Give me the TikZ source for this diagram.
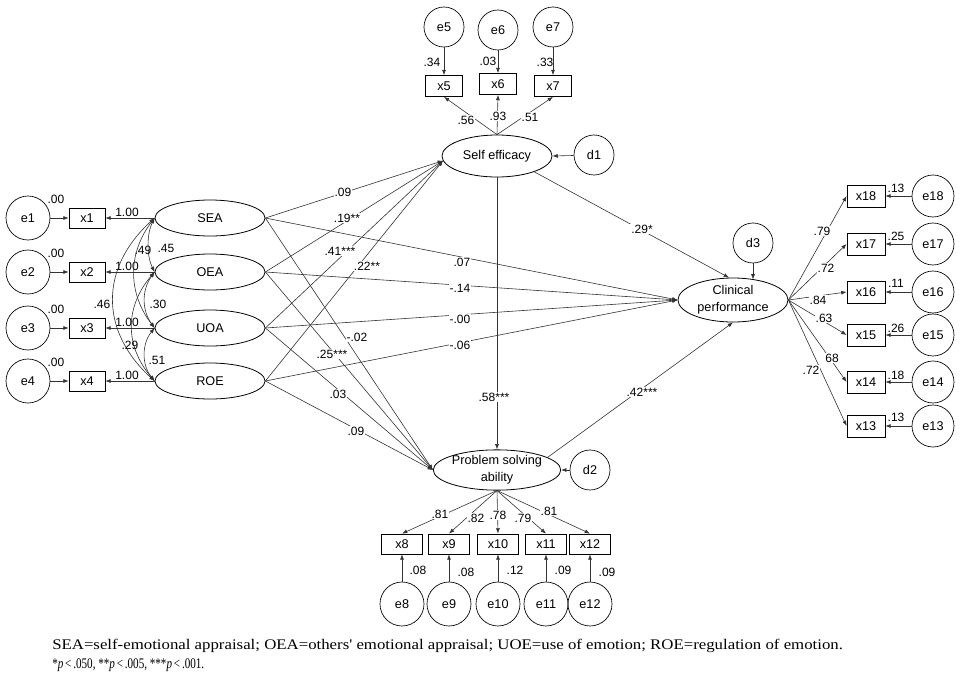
\documentclass[tikz,border=0pt]{standalone}
\usepackage{fontspec}
\setmainfont{Liberation Sans}
\newfontfamily\capfont{Liberation Serif}
\usetikzlibrary{shapes.geometric,arrows.meta}
\begin{document}
\begin{tikzpicture}[x=0.75pt,y=-0.75pt,
  every node/.style={font=\fontsize{9.5}{12.5}\selectfont},
  lat/.style={ellipse,draw,line width=0.6pt,inner sep=0pt,minimum width=82.5pt,minimum height=27pt,align=center},
  errc/.style={circle,draw,line width=0.5pt,inner sep=0pt,minimum size=33pt},
  obs/.style={rectangle,draw,line width=0.6pt,inner sep=0pt,minimum width=27pt,minimum height=15pt},
  lb/.style={font=\fontsize{9}{9.5}\selectfont,inner sep=0.8pt},
  lbw/.style={lb,fill=white},
  arr/.style={-{Latex[length=4pt,width=3pt]},line width=0.45pt,draw=black!80},
  dar/.style={{Latex[length=4pt,width=3pt]}-{Latex[length=4pt,width=3pt]},line width=0.45pt,draw=black!80}
]
\useasboundingbox (0,0) rectangle (961,675);

% ---------- left block ----------
\foreach \i/\y/\n in {1/218/SEA,2/272/OEA,3/328/UOA,4/381/ROE} {
  \node[errc] (e\i) at (28,\y) {e\i};
  \node[obs] (x\i) at (87,\y) {x\i};
  \node[lat] (\n) at (210,\y) {\n};
  \node[lb] (z\i) at (56,\y-19) {.00};
  \draw[arr] (e\i) -- (x\i);
  \draw[arr] (\n.west) -- (x\i.east);
  \node[lb] (o\i) at (127,\y-6) {1.00};
}

% covariances
\draw[dar] (SEA.west) .. controls +(-8,16) and +(-8,-16) .. (OEA.west);
\draw[dar] (OEA.west) .. controls +(-13,18) and +(-13,-18) .. (UOA.west);
\draw[dar] (UOA.west) .. controls +(-13,16) and +(-13,-16) .. (ROE.west);
\draw[dar] (SEA.west) .. controls +(-27,35) and +(-27,-35) .. (UOA.west);
\draw[dar] (OEA.west) .. controls +(-30,35) and +(-30,-35) .. (ROE.west);
\draw[dar] (SEA.west) .. controls +(-55,50) and +(-55,-50) .. (ROE.west);
\node[lb] (c1) at (166,248) {.45};
\node[lb] (c2) at (143,250) {.49};
\node[lb] (c3) at (102,304) {.46};
\node[lb] (c4) at (158,304) {.30};
\node[lb] (c5) at (130,345) {.29};
\node[lb] (c6) at (157,360) {.51};

% ---------- self efficacy ----------
\node[lat,minimum height=31.5pt] (SE) at (497,156) {Self efficacy};
\node[errc,minimum size=30pt] (d1) at (594,155) {d1};
\draw[arr] (d1) -- (SE.east);
\foreach \i/\x/\y/\ey in {5/444/86/27,6/498/84/30,7/553/86/27} {
  \node[errc,minimum size=30pt] (e\i) at (\x,\ey) {e\i};
  \node[obs,minimum width=27.75pt,minimum height=15.75pt] (x\i) at (\x,\y) {x\i};
  \draw[arr] (e\i) -- (x\i);
  \draw[arr] (SE.north) -- (x\i.south);
}
\node[lb] (r5) at (432,62) {.34};
\node[lb] (r6) at (488,61) {.03};
\node[lb] (r7) at (545,62) {.33};
\node[lbw] (l5) at (466,120) {.56};
\node[lbw] (l6) at (498,116) {.93};
\node[lbw] (l7) at (530,117) {.51};

% ---------- problem solving ----------
\node[lat,minimum height=30pt] (PS) at (497,470) {Problem solving\\ability};
\node[errc,minimum size=30pt] (d2) at (590,470) {d2};
\draw[arr] (d2) -- (PS.east);
\foreach \i/\x in {8/402,9/449,10/498,11/546,12/590} {
  \node[obs,minimum width=30.75pt] (x\i) at (\x,544) {x\i};
  \node[errc] (e\i) at (\x,604) {e\i};
  \draw[arr] (e\i) -- (x\i);
  \draw[arr] (PS.south) -- (x\i.north);
}
\node[lbw] (l8) at (440,514) {.81};
\node[lbw] (l9) at (476,518) {.82};
\node[lbw] (l10) at (498,515) {.78};
\node[lbw] (l11) at (523,518) {.79};
\node[lbw] (l12) at (549,511) {.81};
\node[lb] (r8) at (418,570) {.08};
\node[lb] (r9) at (466,572) {.08};
\node[lb] (r10) at (515,570) {.12};
\node[lb] (r11) at (563,570) {.09};
\node[lb] (r12) at (607,572) {.09};

% ---------- clinical performance ----------
\node[lat,minimum height=33pt] (CP) at (733,300) {Clinical\\performance};
\node[errc,minimum size=30pt] (d3) at (753,243) {d3};
\coordinate (d3t) at (753,279.5);
\draw[arr] (d3) -- (d3t);
\foreach \i/\y/\r/\ry in {18/196/.13/188,17/244/.25/236,16/292/.11/283,15/335/.26/328,14/382/.18/375,13/426/.13/417} {
  \node[obs,minimum width=28.5pt,minimum height=16.5pt] (x\i) at (866,\y) {x\i};
  \node[errc,minimum size=31.5pt] (e\i) at (933,\y) {e\i};
  \draw[arr] (e\i) -- (x\i);
  \draw[arr] (CP.east) -- (x\i.west);
  \node[lb] (r\i) at (896,\ry) {\r};
}
\node[lbw] (l18) at (822,231) {.79};
\node[lbw] (l17) at (826,268) {.72};
\node[lbw] (l16) at (818,300) {.84};
\node[lbw] (l15) at (824,318) {.63};
\node[lbw] (l14) at (832,358) {68};
\node[lbw] (l13) at (811,370) {.72};

% ---------- structural paths ----------
\foreach \n in {SEA,OEA,UOA,ROE} {
  \draw[arr] (\n.east) -- (SE.185);
  \draw[arr] (\n.east) -- (CP.west);
  \draw[arr] (\n.east) -- (PS.west);
}
\draw[arr] (SE.-23) -- (CP.100);
\draw[arr] (SE.south) -- (PS.north);
\draw[arr] (PS.14) -- (CP.south);

\node[lbw] (s1) at (343,192) {.09};
\node[lbw] (s2) at (347,218) {.19**};
\node[lbw] (s3) at (340,251) {.41***};
\node[lbw] (s4) at (367,266) {.22**};
\node[lbw] (s5) at (462,262) {.07};
\node[lbw] (s6) at (460,288) {-.14};
\node[lbw] (s7) at (460,319) {-.00};
\node[lbw] (s8) at (460,345) {-.06};
\node[lbw] (s9) at (357,337) {-.02};
\node[lbw] (s10) at (332,354) {.25***};
\node[lbw] (s11) at (338,394) {.03};
\node[lbw] (s12) at (356,431) {.09};
\node[lbw] (s13) at (642,229) {.29*};
\node[lbw] (s14) at (642,392) {.42***};
\node[lbw] (s15) at (494,397) {.58***};

% ---------- caption ----------
\node[anchor=base west,inner sep=0pt] (cap1) at (52,649) {\resizebox{593pt}{\height}{\capfont\fontsize{11}{13}\selectfont SEA=self-emotional appraisal; OEA=others' emotional appraisal; UOE=use of emotion; ROE=regulation of emotion.}};
\node[anchor=base west,inner sep=0pt] (cap2) at (52,668) {\resizebox{114pt}{\height}{\capfont\fontsize{11}{13}\selectfont {*}\textit{p}\,<\,.050, {**}\textit{p}\,<\,.005, {***}\textit{p}\,<\,.001.}};
\end{tikzpicture}
\end{document}
